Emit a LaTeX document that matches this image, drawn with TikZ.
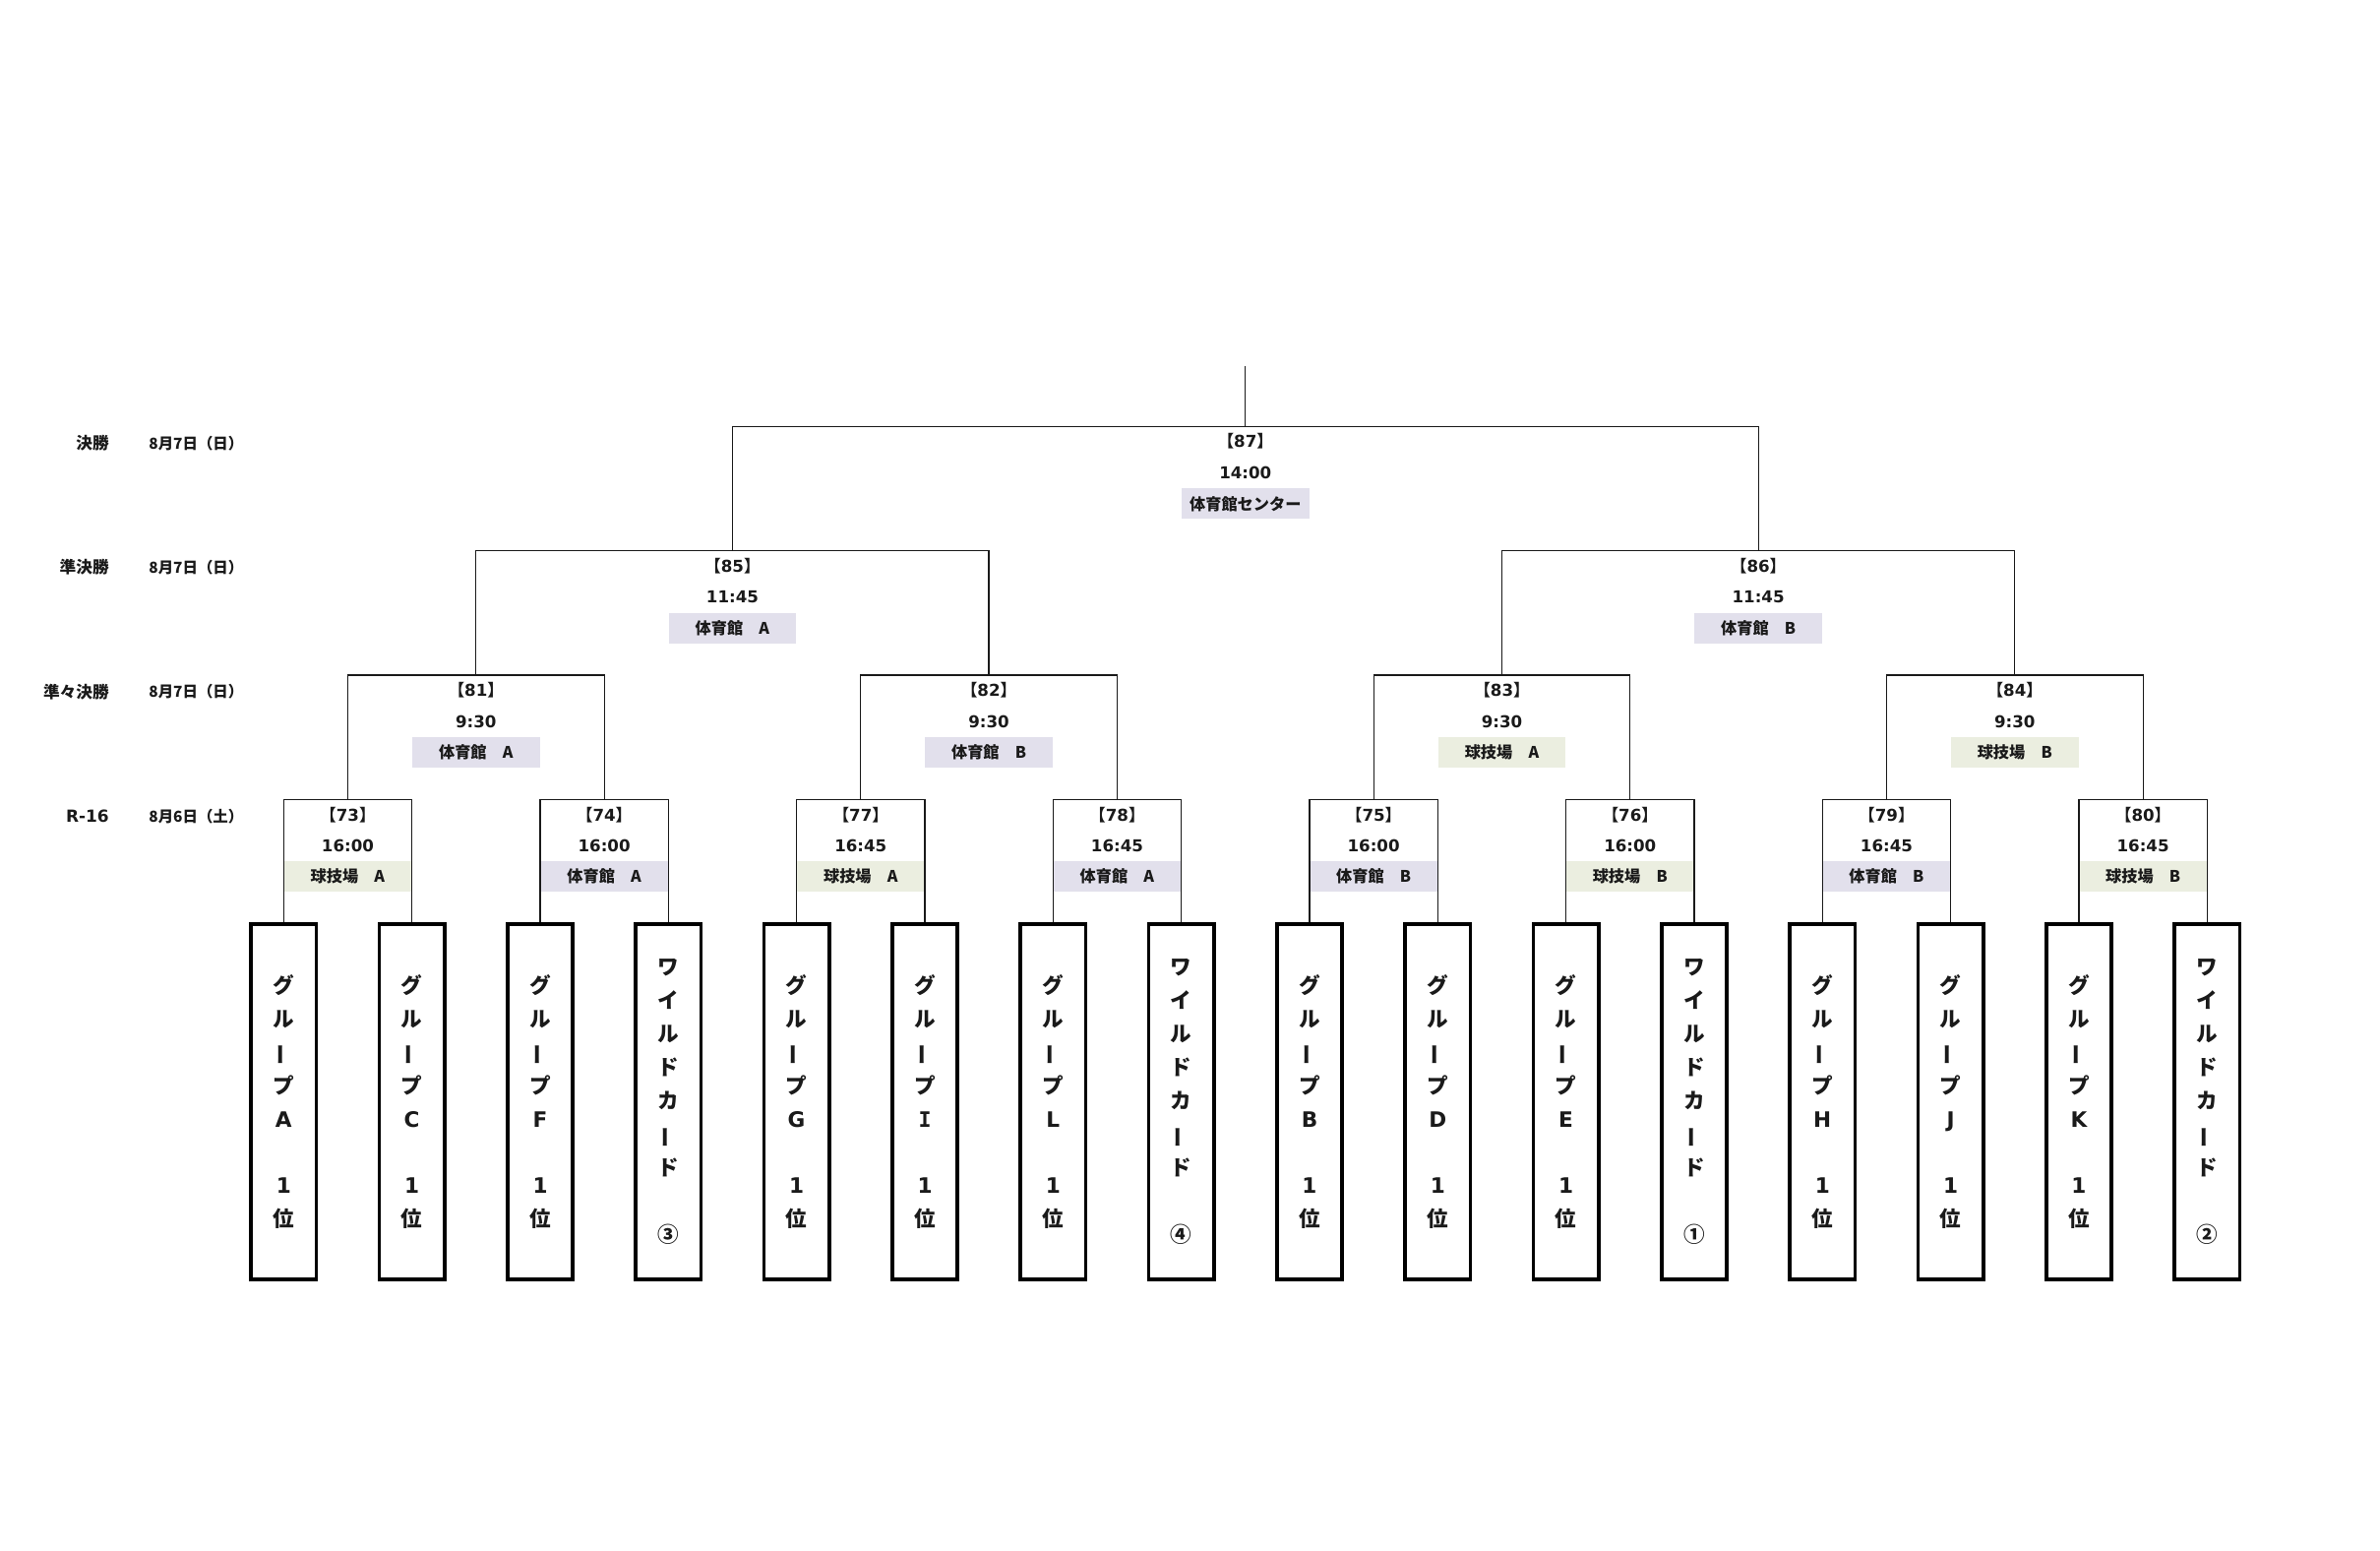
\documentclass[tikz,border=0pt]{standalone}
\usepackage{fontspec}
\setmainfont{DejaVu Sans}
\newfontfamily\jp{Noto Sans CJK JP}
\newfontfamily\serifI{DejaVu Sans Mono}
\definecolor{venP}{HTML}{E2E0EC}
\definecolor{venG}{HTML}{EBEEE0}
\definecolor{ink}{HTML}{1A1A1A}
\newcommand{\vbar}{\smash{\rotatebox[origin=c]{90}{\jp ー}}}
\newcommand{\grp}[1]{{\jp グ}\\{\jp ル}\\\vbar\\{\jp プ}\\#1\\\mbox{}\\1\\{\jp 位}}
\newcommand{\wild}[1]{{\jp ワ}\\{\jp イ}\\{\jp ル}\\{\jp ド}\\{\jp カ}\\\vbar\\{\jp ド}\\\mbox{}\\{\jp #1}}
\newcommand{\mno}[1]{{\jp 【}#1{\jp 】}}
\begin{document}
\begin{tikzpicture}[x=1pt,y=-1pt,
  line/.style={draw=ink, line width=0.8pt},
  team/.style={draw=black, line width=2.4pt, minimum width=43pt, minimum height=234pt, anchor=north, inner sep=0pt, align=center, text=ink, font=\bfseries\fontsize{14}{22}\selectfont},
  rowlab/.style={anchor=east, inner sep=0pt, text=ink, font=\bfseries\jp\fontsize{10.8}{12}\selectfont},
  datelab/.style={anchor=west, inner sep=0pt, text=ink, font=\bfseries\jp\fontsize{10}{12}\selectfont},
  numlab/.style={inner sep=0pt, text=ink, font=\bfseries\fontsize{10.8}{12}\selectfont},
  venue/.style={fill=#1, inner sep=0pt, minimum height=20pt, text=ink, font=\bfseries\fontsize{10.5}{12}\selectfont},
  vsmall/.style={minimum width=84pt},
  vwide/.style={minimum width=84.5pt}
]
\useasboundingbox (0,0) rectangle (1569,1022.2);

% row labels
\node[rowlab] (r1) at (72,292) {決勝};
\node[datelab] (d1) at (98,292) {8月7日（日）};
\node[rowlab] (r2) at (72,374) {準決勝};
\node[datelab] (d2) at (98,374) {8月7日（日）};
\node[rowlab] (r3) at (72,456) {準々決勝};
\node[datelab] (d3) at (98,456) {8月7日（日）};
\node[rowlab, font=\bfseries\fontsize{11}{12}\selectfont] (r4) at (72,538) {R-16};
\node[datelab] (d4) at (98,538) {8月6日（土）};

% teams
\node[team] (t1) at (187,608) {\grp{A}};
\node[team] (t2) at (271.5,608) {\grp{C}};
\node[team] (t3) at (356.1,608) {\grp{F}};
\node[team] (t4) at (440.6,608) {\wild{③}};
\node[team] (t5) at (525.1,608) {\grp{G}};
\node[team] (t6) at (609.7,608) {\grp{{\serifI I}}};
\node[team] (t7) at (694.2,608) {\grp{L}};
\node[team] (t8) at (778.7,608) {\wild{④}};
\node[team] (t9) at (863.3,608) {\grp{B}};
\node[team] (t10) at (947.8,608) {\grp{D}};
\node[team] (t11) at (1032.3,608) {\grp{E}};
\node[team] (t12) at (1116.9,608) {\wild{①}};
\node[team] (t13) at (1201.4,608) {\grp{H}};
\node[team] (t14) at (1285.9,608) {\grp{J}};
\node[team] (t15) at (1370.5,608) {\grp{K}};
\node[team] (t16) at (1455,608) {\wild{②}};

% match points
\coordinate (m73) at (229.25,527);
\coordinate (m74) at (398.35,527);
\coordinate (m77) at (567.4,527);
\coordinate (m78) at (736.45,527);
\coordinate (m75) at (905.55,527);
\coordinate (m76) at (1074.6,527);
\coordinate (m79) at (1243.65,527);
\coordinate (m80) at (1412.75,527);
\coordinate (m81) at (313.8,445);
\coordinate (m82) at (651.9,445);
\coordinate (m83) at (990.1,445);
\coordinate (m84) at (1328.2,445);
\coordinate (m85) at (482.85,363);
\coordinate (m86) at (1159.15,363);
\coordinate (m87) at (821,281);
\coordinate (top) at (821,241);

% R16 labels
\foreach \m/\x/\t/\v/\c in {73/229.25/16:00/球技場　A/venG, 74/398.35/16:00/体育館　A/venP,
  77/567.4/16:45/球技場　A/venG, 78/736.45/16:45/体育館　A/venP,
  75/905.55/16:00/体育館　B/venP, 76/1074.6/16:00/球技場　B/venG,
  79/1243.65/16:45/体育館　B/venP, 80/1412.75/16:45/球技場　B/venG}{
  \node[numlab] (n\m) at (\x,537) {\mno{\m}};
  \node[numlab] (h\m) at (\x,557.5) {\t};
  \node[venue=\c, vwide] (v\m) at (\x,577.5) {\jp\v};
}
% QF labels
\foreach \m/\x/\v/\c in {81/313.8/体育館　A/venP, 82/651.9/体育館　B/venP,
  83/990.1/球技場　A/venG, 84/1328.2/球技場　B/venG}{
  \node[numlab] (n\m) at (\x,455) {\mno{\m}};
  \node[numlab] (h\m) at (\x,475.5) {9:30};
  \node[venue=\c, vsmall] (v\m) at (\x,496) {\jp\v};
}
% SF labels
\node[numlab] (n85) at (482.85,373) {\mno{85}};
\node[numlab] (h85) at (482.85,393.5) {11:45};
\node[venue=venP, vsmall] (v85) at (482.85,414) {\jp 体育館　A};
\node[numlab] (n86) at (1159.15,373) {\mno{86}};
\node[numlab] (h86) at (1159.15,393.5) {11:45};
\node[venue=venP, vsmall] (v86) at (1159.15,414) {\jp 体育館　B};
% Final labels
\node[numlab] (n87) at (821,291) {\mno{87}};
\node[numlab] (h87) at (821,311.5) {14:00};
\node[venue=venP, vsmall] (v87) at (821,332) {\jp 体育館センター};

% bracket lines
\draw[line] (t1.north) |- (m73) -| (t2.north);
\draw[line] (t3.north) |- (m74) -| (t4.north);
\draw[line] (t5.north) |- (m77) -| (t6.north);
\draw[line] (t7.north) |- (m78) -| (t8.north);
\draw[line] (t9.north) |- (m75) -| (t10.north);
\draw[line] (t11.north) |- (m76) -| (t12.north);
\draw[line] (t13.north) |- (m79) -| (t14.north);
\draw[line] (t15.north) |- (m80) -| (t16.north);
\draw[line] (m73) |- (m81) -| (m74);
\draw[line] (m77) |- (m82) -| (m78);
\draw[line] (m75) |- (m83) -| (m76);
\draw[line] (m79) |- (m84) -| (m80);
\draw[line] (m81) |- (m85) -| (m82);
\draw[line] (m83) |- (m86) -| (m84);
\draw[line] (m85) |- (m87) -| (m86);
\draw[line] (m87) -- (top);
\end{tikzpicture}
\end{document}
